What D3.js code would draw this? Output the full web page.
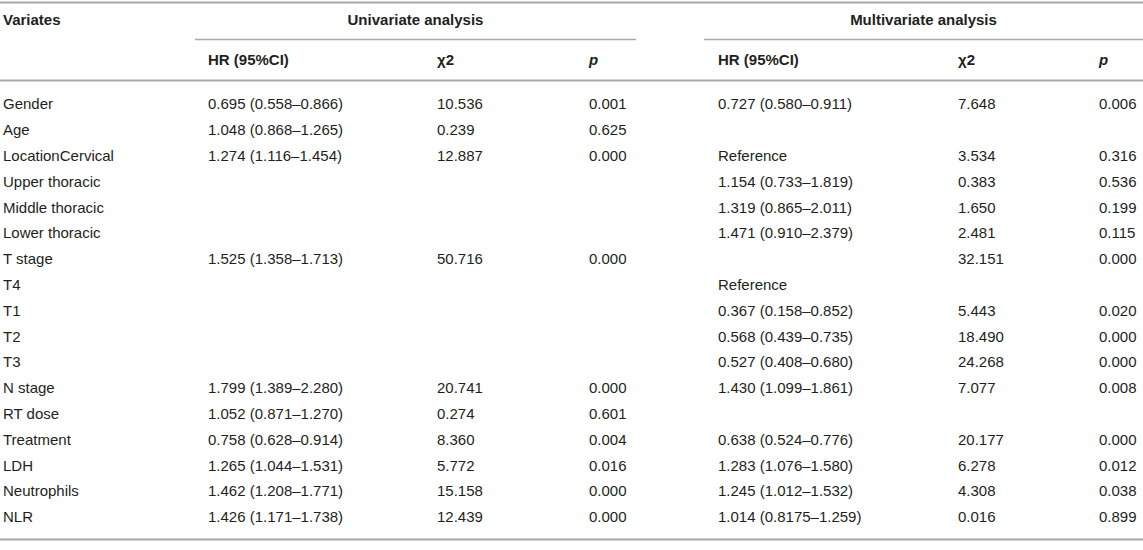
<!DOCTYPE html>
<html>
<head>
<meta charset="utf-8">
<script src="https://cdn.jsdelivr.net/npm/d3@7"></script>
<style>
  html, body { margin: 0; padding: 0; background: #fff; }
  svg { display: block; }
</style>
</head>
<body>
<svg id="chart" width="1143" height="550"></svg>
<script>
// ---- data ----
const variates = ["Gender","Age","LocationCervical","Upper thoracic","Middle thoracic","Lower thoracic",
  "T stage","T4","T1","T2","T3","N stage","RT dose","Treatment","LDH","Neutrophils","NLR"];
const uniHR = ["0.695 (0.558–0.866)","1.048 (0.868–1.265)","1.274 (1.116–1.454)","","","",
  "1.525 (1.358–1.713)","","","","","1.799 (1.389–2.280)","1.052 (0.871–1.270)","0.758 (0.628–0.914)",
  "1.265 (1.044–1.531)","1.462 (1.208–1.771)","1.426 (1.171–1.738)"];
const uniChi = ["10.536","0.239","12.887","","","","50.716","","","","","20.741","0.274","8.360","5.772","15.158","12.439"];
const uniP = ["0.001","0.625","0.000","","","","0.000","","","","","0.000","0.601","0.004","0.016","0.000","0.000"];
const multiHR = ["0.727 (0.580–0.911)","","Reference","1.154 (0.733–1.819)","1.319 (0.865–2.011)","1.471 (0.910–2.379)",
  "","Reference","0.367 (0.158–0.852)","0.568 (0.439–0.735)","0.527 (0.408–0.680)","1.430 (1.099–1.861)","",
  "0.638 (0.524–0.776)","1.283 (1.076–1.580)","1.245 (1.012–1.532)","1.014 (0.8175–1.259)"];
const multiChi = ["7.648","","3.534","0.383","1.650","2.481","32.151","","5.443","18.490","24.268","7.077","","20.177","6.278","4.308","0.016"];
const multiP = ["0.006","","0.316","0.536","0.199","0.115","0.000","","0.020","0.000","0.000","0.008","","0.000","0.012","0.038","0.899"];
const groupLabels = ["Univariate analysis","Multivariate analysis"];
const colKeys = ["var","uHR","uChi","uP","mHR","mChi","mP"];

// ---- layout ----
const svg = d3.select("#chart");
const textColor = "#231f20";
const lineColor = "#a8a8a8";
const fs = 15;

const x = d3.scaleOrdinal().domain(colKeys).range([3, 208, 437, 589, 718, 958, 1099]);
const y = d3.scalePoint().domain(variates).range([104, 517]);
const groupSpan = d3.scaleOrdinal().domain(groupLabels).range([[195, 636], [704, 1143]]);

// rules
function hline(x1, x2, yy, w) {
  svg.append("line").attr("x1", x1).attr("x2", x2).attr("y1", yy).attr("y2", yy)
    .attr("stroke", lineColor).attr("stroke-width", w);
}
hline(0, 1143, 2.5, 2);
groupLabels.forEach(g => { const s = groupSpan(g); hline(s[0], s[1], 39.5, 1.6); });
hline(0, 1143, 80.5, 2);
hline(0, 1143, 539.5, 2);

const font = "'Liberation Sans', Arial, Helvetica, sans-serif";

// header row 1
svg.append("text").attr("x", x("var")).attr("y", 20).attr("dy", "0.35em")
  .attr("font-family", font).attr("font-size", fs).attr("font-weight", "bold")
  .attr("fill", textColor).text("Variates");
svg.selectAll("text.group").data(groupLabels).join("text").attr("class", "group")
  .attr("x", d => (groupSpan(d)[0] + groupSpan(d)[1]) / 2).attr("y", 20).attr("dy", "0.35em")
  .attr("text-anchor", "middle")
  .attr("font-family", font).attr("font-size", fs).attr("font-weight", "bold")
  .attr("fill", textColor).text(d => d);

// header row 2
const subHeads = [["uHR","HR (95%CI)",false],["uChi","χ2",false],["uP","p",true],
                  ["mHR","HR (95%CI)",false],["mChi","χ2",false],["mP","p",true]];
svg.selectAll("text.sub").data(subHeads).join("text").attr("class", "sub")
  .attr("x", d => x(d[0])).attr("y", 60).attr("dy", "0.35em")
  .attr("font-family", font).attr("font-size", fs).attr("font-weight", "bold")
  .attr("font-style", d => d[2] ? "italic" : "normal")
  .attr("fill", textColor).text(d => d[1]);

// body
const cols = [["var", variates], ["uHR", uniHR], ["uChi", uniChi], ["uP", uniP],
              ["mHR", multiHR], ["mChi", multiChi], ["mP", multiP]];
cols.forEach(([key, arr]) => {
  svg.append("g").selectAll("text").data(arr.map((v, i) => ({v, row: variates[i]})))
    .join("text")
    .attr("x", x(key)).attr("y", d => y(d.row)).attr("dy", "0.35em")
    .attr("font-family", font).attr("font-size", fs)
    .attr("fill", textColor).text(d => d.v);
});
</script>
</body>
</html>
